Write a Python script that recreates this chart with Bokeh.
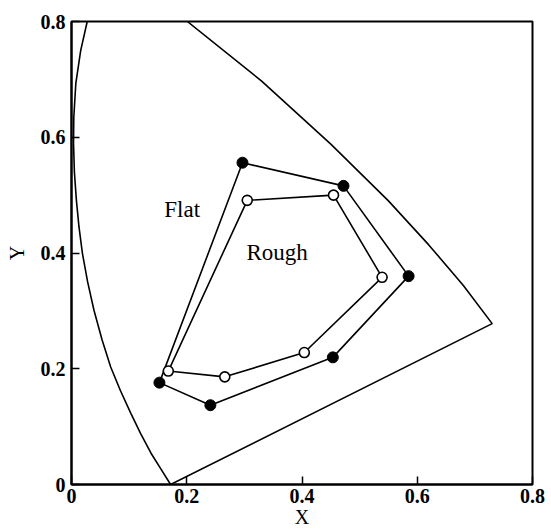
from bokeh.plotting import figure
from bokeh.models import Range1d, FixedTicker, Label, CustomJSTickFormatter
from bokeh.embed import file_html
from bokeh.resources import INLINE

# --- data ---
# spectral locus (right branch top -> red end, purple line -> violet end, left branch up to top)
locus_x = [0.201, 0.330, 0.450, 0.550, 0.620, 0.680, 0.730,
           0.172, 0.155, 0.138, 0.120, 0.103, 0.085, 0.068, 0.053, 0.039, 0.028, 0.019,
           0.013, 0.0085, 0.005, 0.0035, 0.004, 0.0075, 0.016, 0.0273]
locus_y = [0.800, 0.697, 0.588, 0.490, 0.414, 0.344, 0.278,
           0.000, 0.027, 0.054, 0.088, 0.123, 0.162, 0.203, 0.250, 0.301, 0.350, 0.399,
           0.445, 0.491, 0.540, 0.590, 0.635, 0.693, 0.750, 0.800]

flat_x = [0.1526, 0.2967, 0.472, 0.585, 0.4535, 0.241]
flat_y = [0.176, 0.556, 0.516, 0.360, 0.2197, 0.137]

rough_x = [0.168, 0.305, 0.4547, 0.539, 0.404, 0.266]
rough_y = [0.196, 0.491, 0.500, 0.358, 0.228, 0.186]

tick_values = [0.0, 0.2, 0.4, 0.6, 0.8]
tick_labels = ["0", "0.2", "0.4", "0.6", "0.8"]

FONT = "Liberation Serif"

p = figure(width=551, height=531, x_range=Range1d(0, 0.8), y_range=Range1d(0, 0.8),
           output_backend="svg", toolbar_location=None,
           min_border_left=71, min_border_right=19, min_border_top=21, min_border_bottom=47)
p.grid.visible = False
p.outline_line_color = "black"
p.outline_line_width = 2
p.background_fill_color = "white"
p.border_fill_color = "white"

fmt = CustomJSTickFormatter(args=dict(tv=tick_values, tl=tick_labels), code="""
for (let i = 0; i < tv.length; i++) { if (Math.abs(tick - tv[i]) < 1e-9) return tl[i]; }
return '';
""")

for ax in (p.xaxis[0], p.yaxis[0]):
    ax.ticker = FixedTicker(ticks=tick_values)
    ax.formatter = fmt
    ax.major_tick_in = 8
    ax.major_tick_out = 0
    ax.major_tick_line_width = 1.5
    ax.minor_tick_line_color = None
    ax.axis_line_width = 2
    ax.major_label_text_font = FONT
    ax.major_label_text_font_style = "bold"
    ax.major_label_text_font_size = "20px"
    ax.major_label_text_color = "black"
    ax.axis_label_text_font = FONT
    ax.axis_label_text_font_style = "normal"
    ax.axis_label_text_font_size = "20px"
    ax.axis_label_text_color = "black"

p.xaxis.axis_label = "X"
p.yaxis.axis_label = "Y"
p.xaxis.major_label_standoff = 4
p.xaxis.axis_label_standoff = 0
p.yaxis.major_label_standoff = 6
p.yaxis.axis_label_standoff = 10

p.line(locus_x, locus_y, line_color="black", line_width=1.6)

p.line(flat_x + flat_x[:1], flat_y + flat_y[:1], line_color="black", line_width=1.6)
p.line(rough_x + rough_x[:1], rough_y + rough_y[:1], line_color="black", line_width=1.6)
p.scatter(flat_x, flat_y, size=11, fill_color="black", line_color="black", line_width=1)
p.scatter(rough_x, rough_y, size=10, fill_color="white", line_color="black", line_width=1.6)

p.add_layout(Label(x=0.161, y=0.476, text="Flat", text_font=FONT, text_font_size="23px",
                   text_color="black", text_baseline="alphabetic"))
p.add_layout(Label(x=0.3037, y=0.4016, text="Rough", text_font=FONT, text_font_size="23px",
                   text_color="black", text_baseline="alphabetic"))

open("out.html", "w").write(file_html(p, INLINE))
